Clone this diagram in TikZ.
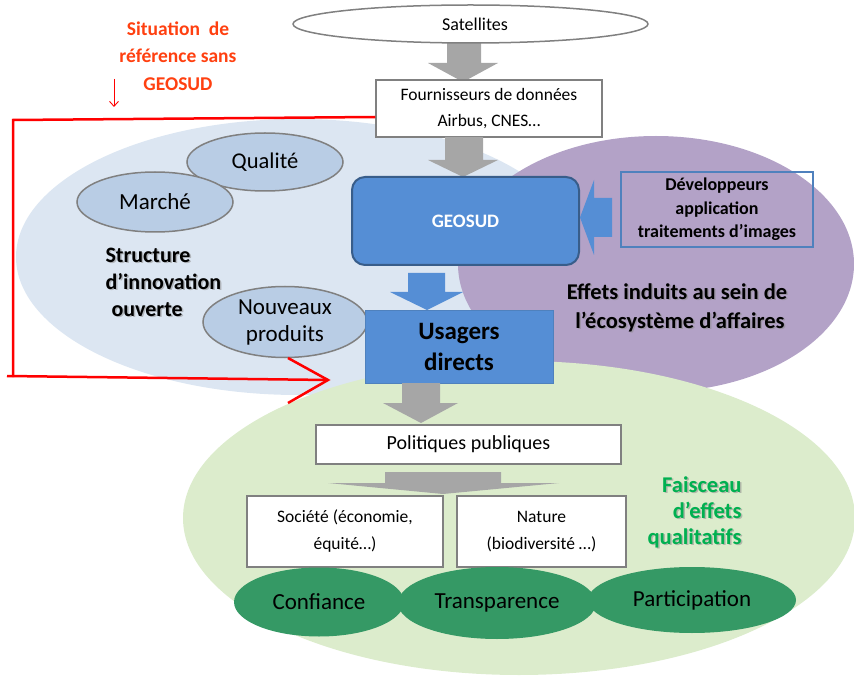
\documentclass[tikz,border=0pt]{standalone}
\usepackage{fontspec}
\setmainfont{Carlito}
\usetikzlibrary{shapes.geometric,calc,arrows.meta}
\definecolor{bgblue}{RGB}{220,230,242}
\definecolor{bgpurple}{RGB}{179,162,199}
\definecolor{bggreen}{RGB}{220,236,204}
\definecolor{smallblue}{RGB}{185,205,229}
\definecolor{outl}{RGB}{128,128,128}
\definecolor{arrgray}{RGB}{166,166,166}
\definecolor{midblue}{RGB}{85,142,213}
\definecolor{darkblue}{RGB}{56,93,138}
\definecolor{boxblue}{RGB}{79,129,189}
\definecolor{dkgreen}{RGB}{53,153,101}
\definecolor{txtgreen}{RGB}{0,176,80}
\definecolor{txtred}{RGB}{255,64,16}
\newcommand\fsz[2]{\fontsize{#1}{#2}\selectfont}
\begin{document}
\begin{tikzpicture}[x=1pt,y=-1pt,
  smallell/.style={ellipse, draw=outl, line width=1.5pt, fill=smallblue, inner sep=0pt, align=center, font=\fsz{23}{27}},
  whitebox/.style={rectangle, draw=outl, line width=1.5pt, fill=white, inner sep=0pt, align=center},
  greenell/.style={ellipse, fill=dkgreen, inner sep=0pt, font=\fsz{23}{24}},
  grayarrow/.style={fill=arrgray},
  bluearrow/.style={fill=midblue},
  shadowtxt/.style={text=black!45, opacity=0.55},
]
\useasboundingbox (0,0) rectangle (854,676);
% background ellipses
\fill[bgblue] (298,257) ellipse [x radius=282, y radius=138];
\fill[bgpurple] (656,264) ellipse [x radius=198, y radius=128];
\fill[bggreen] (519,518) ellipse [x radius=336, y radius=157];

% small ellipses
\node[smallell, minimum width=156, minimum height=58, font=\fsz{22.5}{27}] (qual) at (265,162) {Qualité};
\node[smallell, minimum width=156, minimum height=60] (march) at (155,202) {Marché};
\node[smallell, minimum width=164, minimum height=71] (nouv) at (285,322) {Nouveaux\\produits};

% top chain
\fill[grayarrow] (447,40) -- (481,40) -- (481,63) -- (498,63) -- (463,82) -- (428,63) -- (447,63) -- cycle;
\node[ellipse, draw=outl, line width=1.5pt, fill=white, inner sep=0pt, minimum width=355, minimum height=38, font=\fsz{18}{20}] (sat) at (470.5,24) {\hspace*{9pt}Satellites};
\node[whitebox, minimum width=226, minimum height=57, font=\fsz{17.5}{26}] (four) at (489,108.5) {Fournisseurs de données\\Airbus, CNES…};
\fill[grayarrow] (445,137) -- (483,137) -- (483,160) -- (498,160) -- (463,177) -- (428,160) -- (445,160) -- cycle;

\node[rectangle, rounded corners=13pt, draw=darkblue, line width=2pt, fill=midblue, minimum width=227, minimum height=88, text=white, font=\bfseries\fsz{19}{20}] (geo) at (465.5,221) {GEOSUD};
\fill[bluearrow] (408,273) -- (445,273) -- (445,292) -- (463,292) -- (427,310) -- (390,292) -- (408,292) -- cycle;
\node[rectangle, draw=boxblue, line width=0.8pt, fill=midblue, minimum width=188, minimum height=73, align=center, font=\bfseries\fsz{25}{31}] (usa) at (459,346.5) {Usagers\\directs};
\fill[grayarrow] (402,383) -- (440,383) -- (440,403) -- (458,403) -- (421,423) -- (383,403) -- (402,403) -- cycle;

% developpeurs
\fill[bluearrow] (612,198) -- (612,237) -- (594,237) -- (594,255) -- (580,217.5) -- (594,180) -- (594,198) -- cycle;
\node[rectangle, draw=boxblue, line width=1.6pt, minimum width=192, minimum height=75, inner sep=0pt, align=center, font=\bfseries\fsz{18}{23.5}] (dev) at (717,209.5) {Développeurs\\application\\traitements d’images};

% lower chain
\node[whitebox, minimum width=305, minimum height=39, font=\fsz{20}{22}] (pol) at (468.5,444.5) {Politiques publiques};
\fill[grayarrow] (385,472) -- (501,472) -- (501,483) -- (559,483) -- (443,494) -- (328,483) -- (385,483) -- cycle;
\node[whitebox, minimum width=196, minimum height=71, font=\fsz{17.5}{27}] (soc) at (345,531.5) {Société (économie,\\équité…)};
\node[whitebox, minimum width=169, minimum height=71, font=\fsz{17.5}{27}] (nat) at (541.5,531.5) {Nature\\(biodiversité …)};

\node[greenell, minimum width=170, minimum height=69] (conf) at (319,602) {Confiance};
\node[greenell, minimum width=208, minimum height=66] (part) at (692,600) {Participation};
\node[greenell, minimum width=198, minimum height=72] (trans) at (497,603) {Transparence};

% bold labels with shadow
\node[shadowtxt, anchor=west, align=left, font=\bfseries\fsz{22}{27}] (strs) at (103.5,283.5) {Structure\\d’innovation\\\hspace*{6pt}ouverte};
\node[anchor=west, align=left, font=\bfseries\fsz{22}{27}] (str) at (102,282) {Structure\\d’innovation\\\hspace*{6pt}ouverte};
\node[shadowtxt, align=center, font=\bfseries\fsz{22.5}{29}] (effs) at (678.5,309) {Effets induits au sein de\\\hspace*{6pt}l’écosystème d’affaires};
\node[align=center, font=\bfseries\fsz{22.5}{29}] (eff) at (677,307.5) {Effets induits au sein de\\\hspace*{6pt}l’écosystème d’affaires};
\node[shadowtxt, anchor=east, align=right, font=\bfseries\fsz{22.5}{26}] (fais) at (746.5,513.5) {Faisceau\\d’effets\\qualitatifs};
\node[anchor=east, align=right, text=txtgreen, font=\bfseries\fsz{22.5}{26}] (fai) at (745,512) {Faisceau\\d’effets\\qualitatifs};

% red annotation
\node[align=center, text=txtred, font=\bfseries\fsz{19.5}{27.5}] (ref) at (178,56) {Situation\ \ de\\référence sans\\GEOSUD};
\coordinate (rdA) at (114,79);
\coordinate (rdB) at (114,107);
\draw[red, line width=0.9pt, -{Straight Barb[length=5pt,width=9pt]}] (rdA) -- (rdB);
\coordinate (c1) at (13,120);
\coordinate (c2) at (13,377);
\coordinate (c3) at (7,376);
\coordinate (tip) at (328,380);
\coordinate (armA) at (288,358);
\coordinate (armB) at (288,403);
\draw[red, line width=2.5pt] ($(four.west)+(0,8.5)$) -- (c1) -- (c2);
\draw[red, line width=2.5pt] (c3) -- (tip);
\draw[red, line width=2.5pt, line join=miter] (armA) -- (tip) -- (armB);
\end{tikzpicture}
\end{document}
